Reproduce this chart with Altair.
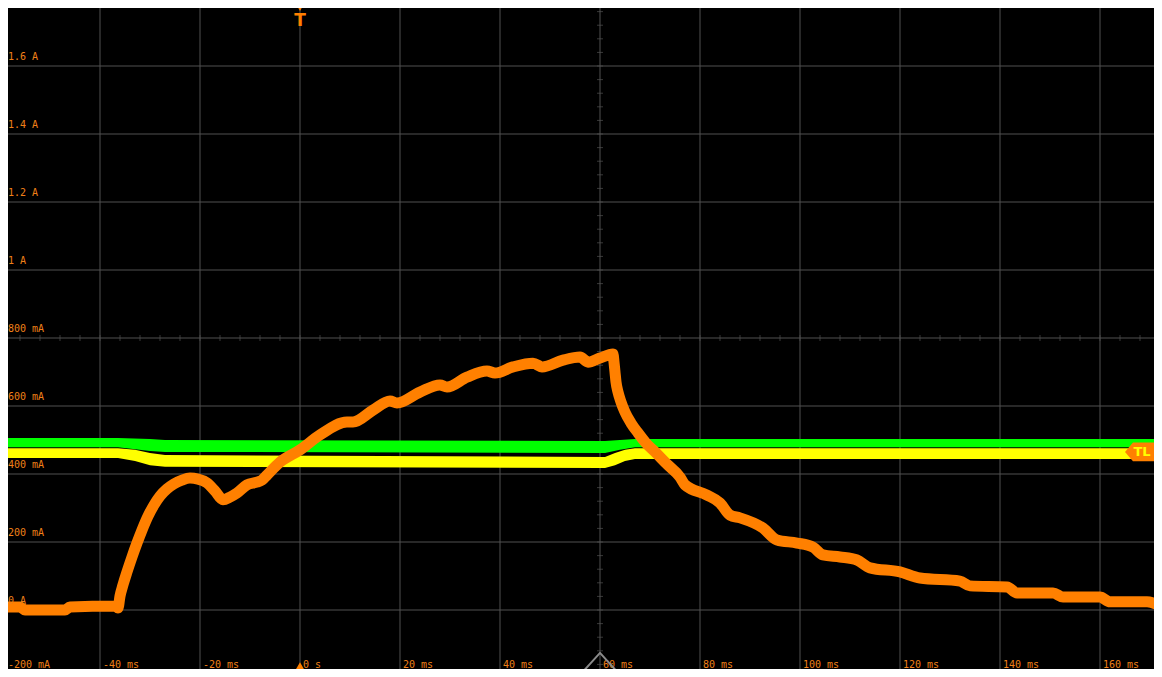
import altair as alt
import pandas as pd

# ---- data (time in ms, current in mA) ----
orange_t = [-60, -56, -55, -47, -46, -37, -36.4, -36, -35.4, -34.6, -33.6, -32.6, -31.6, -30.4,
            -29.2, -28, -26.6, -25.2, -23.6, -22, -20.4, -18.6, -17, -15.4, -14, -12.6, -10.6,
            -8.6, -7.6, -6.6, -4,
            0, 4, 9.4, 10.6, 14.6, 18, 19.4, 24, 28, 29.4, 33.4, 37.4, 39, 42.6, 46.6, 48.4,
            52.6, 56, 57.6, 60, 62.6, 62.8, 63, 63.2, 63.6, 64.2, 65, 66.2, 67.6, 69.2, 71,
            73.4, 76, 77, 81.4, 84, 86,
            88, 92.6, 95.4, 99.4, 102.6, 104.6, 108, 111.4, 114, 120, 124, 132, 134, 141.4,
            143.4, 150.6, 152.6, 160, 162, 169.4, 172.4]
orange_i = [9, 9, 0, 0, 9, 12, 6, 41, 74, 112, 156, 197, 235, 276,
            309, 335, 356, 371, 382, 388, 385, 374, 350, 324, 332, 344, 368,
            376, 382, 397, 435,
            471, 515, 553, 553, 588, 615, 609, 641, 662, 656, 685, 703, 697, 715, 726, 715,
            735, 744, 729, 741, 753, 729, 700, 671, 641, 612, 582, 550, 521, 491, 465,
            429, 391, 368, 338, 315, 279,
            271, 241, 206, 197, 185, 162, 156, 147, 124, 112, 94, 85, 71, 68,
            50, 50, 38, 38, 24, 24, 9]

green_t = [-60, -36.4, -30, -27, 61, 64, 67, 172.4]
green_hi = [506, 506, 503, 500, 497, 500, 503, 503]
green_lo = [479, 479, 468, 465, 462, 471, 479, 479]

yellow_t = [-60, -36.4, -33, -30, -27, 61, 63, 65, 67, 172.4]
yellow_hi = [476, 476, 471, 462, 456, 450, 462, 471, 476, 476]
yellow_lo = [447, 447, 438, 426, 421, 418, 426, 438, 444, 444]

grid_t = [-40, -20, 0, 20, 40, 60, 80, 100, 120, 140, 160]
time_labels = ["-40 ms", "-20 ms", "0 s", "20 ms", "40 ms", "60 ms", "80 ms",
               "100 ms", "120 ms", "140 ms", "160 ms"]
grid_i = [0, 200, 400, 600, 800, 1000, 1200, 1400, 1600]
amp_labels = ["0 A", "200 mA", "400 mA", "600 mA", "800 mA",
              "1 A", "1.2 A", "1.4 A", "1.6 A"]
bottom_amp_label = "-200 mA"
minor_t = list(range(-56, 172, 4))
minor_i = list(range(-160, 1770, 40))
center_t = 60
center_i = 800
trigger_t = 0
trigger_level = 465
screen_right_t = 172.4
t_min, t_max = -58.4, 170.8
i_min, i_max = -173.5, 1770.6

W, H = 1146, 661
ORANGE = "#ff8000"
LABEL = "#f08018"
GRID = "#515151"

xs = alt.Scale(domain=[t_min, t_max], nice=False, zero=False)
ys = alt.Scale(domain=[i_min, i_max], nice=False, zero=False)

orange_df = pd.DataFrame({"t": orange_t, "i": orange_i})
green_df = pd.DataFrame({"t": green_t, "hi": green_hi, "lo": green_lo})
yellow_df = pd.DataFrame({"t": yellow_t, "hi": yellow_hi, "lo": yellow_lo})
gt_df = pd.DataFrame({"t": grid_t, "label": time_labels})
gi_df = pd.DataFrame({"i": grid_i, "label": amp_labels})
mt_df = pd.DataFrame({"t": minor_t, "i": [center_i] * len(minor_t)})
mi_df = pd.DataFrame({"i": minor_i, "t": [center_t] * len(minor_i)})

X = lambda f: alt.X(f, type="quantitative", scale=xs, axis=None)
Y = lambda f: alt.Y(f, type="quantitative", scale=ys, axis=None)

vgrid = alt.Chart(gt_df).mark_rule(color=GRID, strokeWidth=1).encode(x=X("t"))
hgrid = alt.Chart(gi_df).mark_rule(color=GRID, strokeWidth=1).encode(y=Y("i"))
ticks_h = alt.Chart(mt_df).mark_tick(orient="vertical", size=6, thickness=1, color=GRID).encode(
    x=X("t"), y=Y("i"))
ticks_v = alt.Chart(mi_df).mark_tick(orient="horizontal", size=6, thickness=1, color=GRID).encode(
    x=X("t"), y=Y("i"))

green = alt.Chart(green_df).mark_area(color="#00ff00", clip=True).encode(
    x=X("t"), y=Y("hi"), y2="lo")
yellow = alt.Chart(yellow_df).mark_area(color="#ffff00", clip=True).encode(
    x=X("t"), y=Y("hi"), y2="lo")
orange = alt.Chart(orange_df).mark_line(color=ORANGE, strokeWidth=11, strokeJoin="round",
                                        interpolate="monotone", clip=True).encode(
    x=X("t"), y=Y("i"))

tlabels = alt.Chart(gt_df).mark_text(align="left", baseline="alphabetic", dx=3,
                                     font="DejaVu Sans Mono", fontSize=10, color=LABEL).encode(
    x=X("t"), y=alt.value(H - 1), text="label")
ilabels = alt.Chart(gi_df).mark_text(align="left", baseline="alphabetic", dy=-6,
                                     font="DejaVu Sans Mono", fontSize=10, color=LABEL).encode(
    x=alt.value(0), y=Y("i"), text="label")
blabel = alt.Chart(pd.DataFrame({"label": [bottom_amp_label]})).mark_text(
    align="left", baseline="alphabetic", font="DejaVu Sans Mono", fontSize=10, color=LABEL).encode(
    x=alt.value(0), y=alt.value(H - 1), text="label")

mk = pd.DataFrame({"t": [trigger_t], "c": [center_t], "lvl": [trigger_level], "tr": [screen_right_t]})
trig_top = alt.Chart(mk).mark_point(shape="triangle-down", filled=True, size=130,
                                    color=ORANGE, opacity=1).encode(x=X("t"), y=alt.value(-2))
trig_T = alt.Chart(mk).mark_text(text="T", font="DejaVu Sans", fontWeight="bold", fontSize=17,
                                 color=ORANGE, baseline="middle", align="center").encode(
    x=X("t"), y=alt.value(13))
trig_bot = alt.Chart(mk).mark_point(shape="triangle-up", filled=True, size=324,
                                    color=ORANGE, opacity=1).encode(x=X("t"), y=alt.value(662))
cursor = alt.Chart(mk).mark_point(shape="M0,-0.55L1,0.55L-1,0.55Z", filled=False, size=1089,
                                  color="#8a8a8a", strokeWidth=2, opacity=1).encode(
    x=X("c"), y=alt.value(654))
tl_shape = alt.Chart(mk).mark_point(shape="M-2,0L-1.57,-0.51L0.3,-0.51L0.3,0.51L-1.57,0.51Z",
                                    filled=True, size=1369, color=ORANGE, opacity=1).encode(
    x=X("tr"), y=Y("lvl"))
tl_text = alt.Chart(mk).mark_text(text="TL", font="DejaVu Sans", fontWeight="bold", fontSize=13,
                                  color="#ffff00", align="center", baseline="middle", dx=-20).encode(
    x=X("tr"), y=Y("lvl"))

chart = alt.layer(vgrid, hgrid, ticks_h, ticks_v, green, yellow, orange, tlabels, ilabels, blabel,
                  trig_top, trig_T, trig_bot, cursor, tl_shape, tl_text).properties(
    width=W, height=H, autosize=alt.AutoSizeParams(type="none"), padding=0,
    background="#000000").configure_view(stroke=None)

chart.save("out.html", embed_options={"renderer": "svg", "actions": False})
